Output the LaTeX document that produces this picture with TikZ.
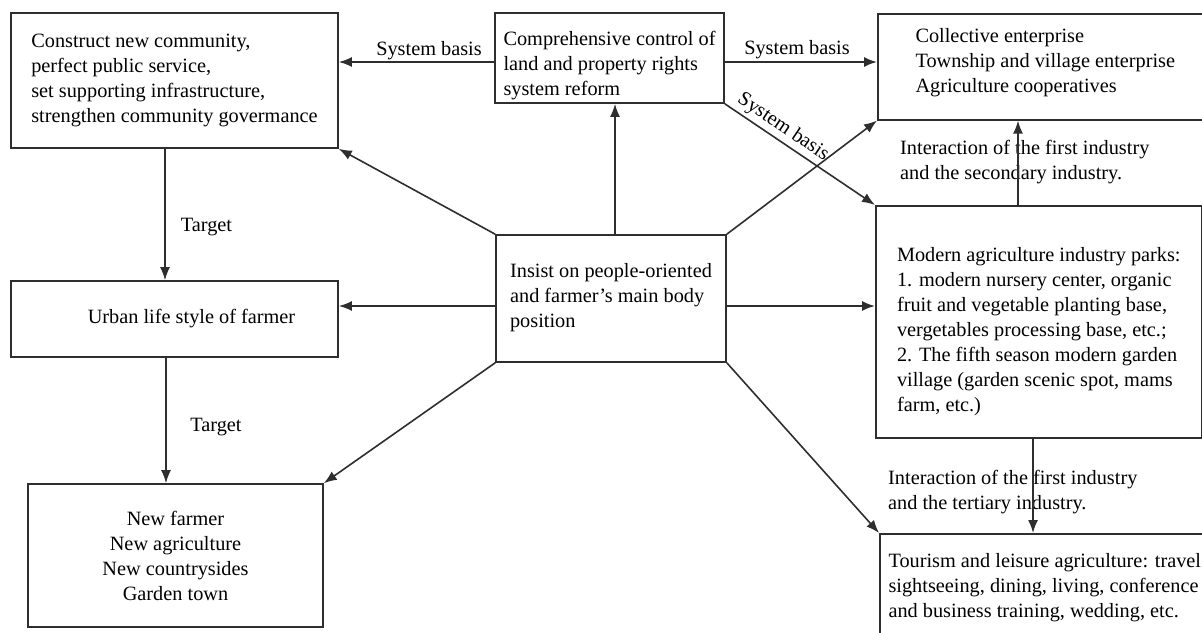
\documentclass[tikz,border=0pt]{standalone}
\usepackage{fontspec}
\setmainfont{Liberation Serif}
\usetikzlibrary{arrows.meta}
\definecolor{lc}{gray}{0.18}
\begin{document}
\begin{tikzpicture}[x=1pt,y=-1pt,
  font=\fontsize{20.3}{25}\selectfont,
  box/.style={draw=lc, line width=1.6pt, inner sep=0pt, align=left},
  arr/.style={draw=lc, line width=1.6pt, -{Latex[length=13pt,width=10pt]}},
  lbl/.style={inner sep=1pt, align=left}]
\useasboundingbox (0,0) rectangle (1202,632);

% boxes
\node[box, minimum width=327pt, minimum height=135pt] (A) at (174.5,80.5)
  {Construct new community,\\perfect public service,\\set supporting infrastructure,\\strengthen community govermance};
\node[box, minimum width=229pt, minimum height=90pt] (B) at (609.5,58)
  {Comprehensive control of\\land and property rights\\system reform\\[-35pt]};
\node[box, anchor=north west, minimum width=335pt, minimum height=106pt] (C) at (877,13)
  {Collective enterprise\\Township and village enterprise\\Agriculture cooperatives\\[-13pt]};
\node[box, anchor=north west, minimum width=326pt, minimum height=232pt] (D) at (875,205)
  {Modern agriculture industry parks:\\1. modern nursery center, organic\\fruit and vegetable planting base,\\vergetables processing base, etc.;\\2. The fifth season modern garden\\village (garden scenic spot, mams\\farm, etc.)\\[-41pt]};
\node[box, anchor=north west, minimum width=330pt, minimum height=107pt] (E) at (879,533)
  {Tourism and leisure agriculture: travel\\sightseeing, dining, living, conference\\and business training, wedding, etc.};
\node[box, minimum width=230pt, minimum height=127pt] (F) at (611,298.5)
  {Insist on people-oriented\\and farmer’s main body\\position\\[-18pt]};
\node[box, minimum width=327pt, minimum height=76pt] (G) at (174.5,319)
  {\hspace*{34pt}Urban life style of farmer};
\node[box, align=center, minimum width=295pt, minimum height=143pt] (H) at (175.5,555.5)
  {New farmer\\New agriculture\\New countrysides\\Garden town};

% labels
\node[lbl] (L1) at (429,51) {System basis};
\node[lbl] (L2) at (797,50) {System basis};
\node[lbl] (T1) at (206.5,227) {Target};
\node[lbl] (T2) at (216,427) {Target};
\node[lbl, anchor=west] (I1) at (899,162.5) {Interaction of the first industry\\and the secondary industry.};
\node[lbl, anchor=west] (I2) at (887,492.5) {Interaction of the first industry\\and the tertiary industry.};

% connectors
\draw[arr] (B.west |- 0,62) -- (A.east |- 0,62);
\draw[arr] (B.east |- 0,62) -- (C.west |- 0,62);
\draw[arr] (B.south east) -- (D.north west)
  node[pos=0.34, sloped, above, inner sep=3pt] (L3) {System basis};
\draw[arr] (F.north east) -- (C.south west);
\draw[arr] (F.north -| 615,0) -- (B.south -| 615,0);
\draw[arr] (F.north west) -- (A.south east);
\draw[arr] (F.west |- 0,306) -- (G.east |- 0,306);
\draw[arr] (F.east |- 0,306) -- (D.west |- 0,306);
\draw[arr] (F.south west) -- (H.north east);
\draw[arr] (F.south east) -- (E.north west);
\draw[arr] (A.south -| 165,0) -- (G.north -| 165,0);
\draw[arr] (G.south -| 166,0) -- (H.north -| 166,0);
\draw[arr] (D.north -| 1018,0) -- (C.south -| 1018,0);
\draw[arr] (D.south -| 1033,0) -- (E.north -| 1033,0);
\end{tikzpicture}
\end{document}
